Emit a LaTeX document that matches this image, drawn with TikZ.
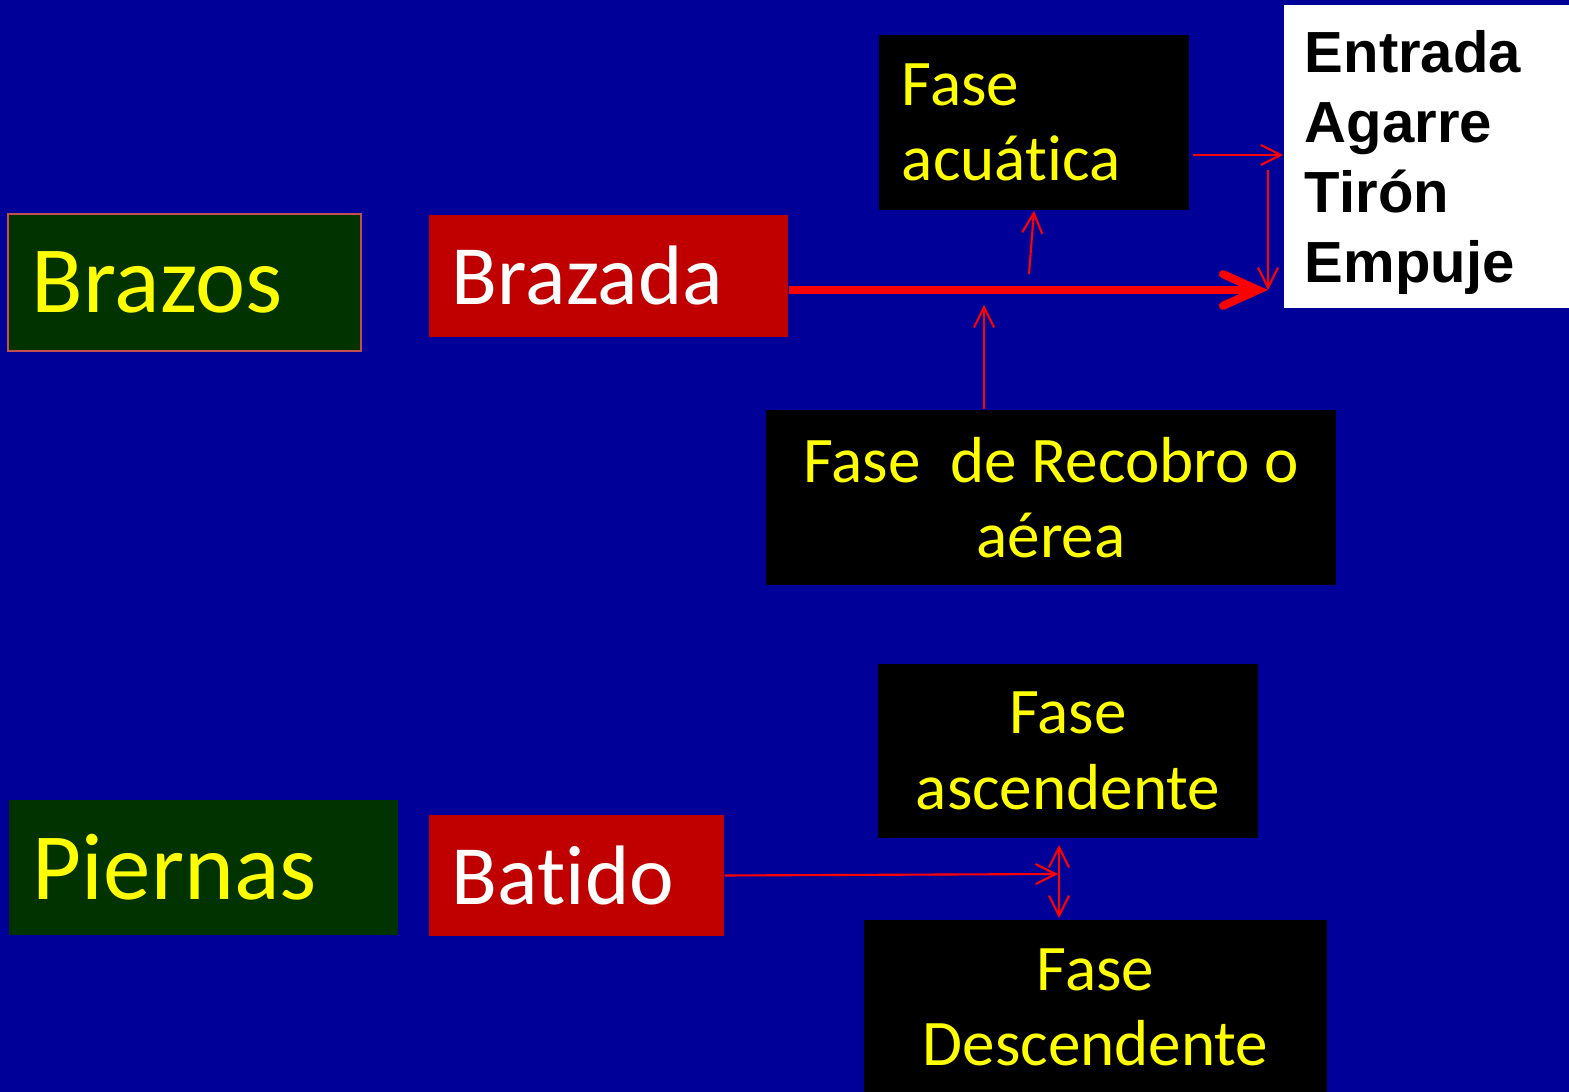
\documentclass[tikz,border=0pt]{standalone}
\usepackage{fontspec}
\setmainfont{Carlito}[Ligatures=CommonOff]
\newfontfamily\arialfont{Liberation Sans}
\usetikzlibrary{arrows.meta,positioning}
\definecolor{slideblue}{RGB}{0,0,153}
\definecolor{limbgreen}{RGB}{0,51,0}
\definecolor{strokered}{RGB}{192,0,0}
\definecolor{arrowred}{RGB}{255,0,0}
\definecolor{edgered}{RGB}{192,80,77}
\definecolor{texty}{RGB}{255,255,0}

\begin{document}
\begin{tikzpicture}
  [
  x=0.01cm, y=-0.01cm,
  limbbox/.style={fill=limbgreen, text=texty, font=\fontsize{27}{33}\selectfont, align=left, inner xsep=0.24cm, inner ysep=0pt},
  movebox/.style={fill=strokered, text=white, font=\fontsize{24}{29}\selectfont, align=left, inner xsep=0.23cm, inner ysep=0pt},
  phasebox/.style={fill=black, text=texty, font=\fontsize{18.5}{21.4}\selectfont, inner xsep=0.2cm, inner ysep=0pt},
  thinarrow/.style={draw=arrowred, line width=0.6pt, -{Straight Barb[length=5.7pt,width=5.7pt]}},
  ]

  \clip (0,0) rectangle (1569,1092);
  \useasboundingbox (0,0) rectangle (1569,1092);
  \fill[slideblue] (0,0) rectangle (1569,1092);

  % arms
  \node[limbbox, draw=edgered, line width=0.6pt, text width=3.05cm, minimum height=1.37cm] (brazos) at (184.5,282.5) {Brazos};
  \node[movebox, text width=3.13cm, minimum height=1.22cm] (brazada) at (608.5,276) {Brazada};
  \node[phasebox, align=left, inner xsep=0.23cm, text width=2.64cm, minimum height=1.75cm] (acuatica) at (1034,122.5) {Fase\\acuática};
  \node[phasebox, align=center, minimum width=5.7cm, minimum height=1.75cm] (recobro) at (1051,497.5) {Fase\ \ de Recobro o\\aérea};
  \node[fill=white, text=black, font=\arialfont\bfseries\fontsize{16.5}{19.9}\selectfont, align=left, inner xsep=0.21cm, inner ysep=0pt, text depth=59.7pt, text width=2.48cm, minimum height=3.03cm] (fases) at (1429,156.5) {Entrada\\Agarre\\Tirón\\Empuje};

  % legs
  \node[limbbox, text width=3.41cm, minimum height=1.35cm] (piernas) at (203.5,867.5) {Piernas};
  \node[movebox, text width=2.49cm, minimum height=1.21cm] (batido) at (576.5,875.5) {Batido};
  \node[phasebox, align=center, minimum width=3.8cm, minimum height=1.74cm] (ascend) at (1068,751) {Fase\\ascendente};
  \node[phasebox, align=center, minimum width=4.63cm, minimum height=1.75cm] (descend) at (1095.5,1007.5) {Fase\\Descendente};

  \coordinate (meet) at (1268,290);
  \coordinate (aqfoot) at (1029,274);
  \coordinate (rbtip) at (984,305);
  \coordinate (aqout) at (1193,155);
  \coordinate (downtop) at (1268,170);
  \coordinate (hub) at (1058,874);
  \coordinate (hubup) at (1059,845);
  \coordinate (hubdown) at (1059,918);

  \draw[draw=arrowred, line width=2.3pt, -{Straight Barb[length=10pt,width=9pt,line cap=round]}] (brazada.east |- meet) -- (meet);
  \draw[thinarrow] (aqfoot) -- (acuatica.south);
  \draw[thinarrow] (recobro.north -| rbtip) -- (rbtip);
  \draw[thinarrow] (aqout) -- (fases.west |- aqout);
  \draw[thinarrow] (downtop) -- (meet);
  \draw[thinarrow] (batido.east) -- (hub);
  \draw[thinarrow, {Straight Barb[length=5.7pt,width=5.7pt]}-{Straight Barb[length=5.7pt,width=5.7pt]}] (hubup) -- (hubdown);
\end{tikzpicture}
\end{document}
